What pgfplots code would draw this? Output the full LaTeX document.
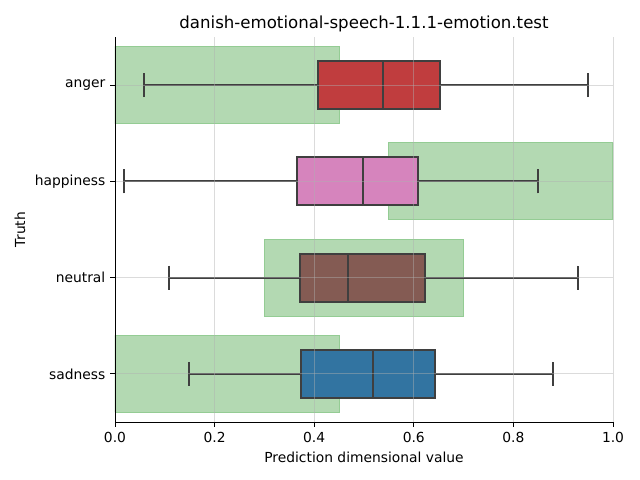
\documentclass[border=0pt]{standalone}
\usepackage{fontspec}
\setmainfont{DejaVu Sans}
\usepackage{pgfplots}
\pgfplotsset{compat=1.18}
\usepgfplotslibrary{statistics}

\definecolor{boxline}{RGB}{63,63,63}
\definecolor{bandfill}{RGB}{179,217,178}
\definecolor{banddraw}{RGB}{148,204,148}
\definecolor{cAnger}{RGB}{192,61,62}
\definecolor{cHappy}{RGB}{214,132,189}
\definecolor{cNeutral}{RGB}{132,91,83}
\definecolor{cSad}{RGB}{50,116,161}
\definecolor{gridc}{RGB}{176,176,176}

\begin{document}
\begin{tikzpicture}
  \useasboundingbox (-1.15in,-0.58in) rectangle (5.25in,4.22in);
  \begin{axis}[
      at={(0,0)}, anchor=south west,
      scale only axis,
      width=4.98in, height=3.85in,
      xmin=0, xmax=1, ymin=-0.5, ymax=3.5,
      xtick={0,0.2,...,1.0},
      /pgf/number format/.cd, fixed, fixed zerofill, precision=1, assume math mode=true,
      /pgfplots/.cd,
      ytick={0,1,2,3},
      yticklabels={sadness,neutral,happiness,anger},
      axis x line*=bottom,
      axis y line*=left,
      tick align=outside,
      major tick length=3.5pt,
      tick style={black, line width=0.6pt},
      axis line style={line width=0.6pt, -},
      grid=major,
      major grid style={color=gridc, opacity=0.45, line width=0.6pt},
      axis on top,
      title={danish-emotional-speech-1.1.1-emotion.test},
      title style={font=\fontsize{12}{14}\selectfont,
        at={(axis description cs:0.5,1)}, anchor=base},
      xlabel={Prediction dimensional value},
      ylabel={Truth},
      tick label style={font=\fontsize{10}{12}\selectfont},
      label style={font=\fontsize{10}{12}\selectfont},
      boxplot/box extend=0.5,
      boxplot/whisker extend=0.25,
    ]
    % target ranges
    \addplot[fill=bandfill, draw=banddraw, line width=0.8pt] coordinates {(0,2.6) (0.45,2.6) (0.45,3.4) (0,3.4) (0,2.6)};
    \addplot[fill=bandfill, draw=banddraw, line width=0.8pt] coordinates {(0.55,1.6) (1.0,1.6) (1.0,2.4) (0.55,2.4) (0.55,1.6)};
    \addplot[fill=bandfill, draw=banddraw, line width=0.8pt] coordinates {(0.30,0.6) (0.70,0.6) (0.70,1.4) (0.30,1.4) (0.30,0.6)};
    \addplot[fill=bandfill, draw=banddraw, line width=0.8pt] coordinates {(0,-0.4) (0.45,-0.4) (0.45,0.4) (0,0.4) (0,-0.4)};

    % boxplots
    \addplot[boxplot prepared={lower whisker=0.059, lower quartile=0.407, median=0.539,
        upper quartile=0.653, upper whisker=0.949, draw position=3},
        draw=boxline, fill=cAnger, line width=1.4pt] coordinates {};
    \addplot[boxplot prepared={lower whisker=0.019, lower quartile=0.365, median=0.498,
        upper quartile=0.609, upper whisker=0.849, draw position=2},
        draw=boxline, fill=cHappy, line width=1.4pt] coordinates {};
    \addplot[boxplot prepared={lower whisker=0.109, lower quartile=0.372, median=0.468,
        upper quartile=0.623, upper whisker=0.929, draw position=1},
        draw=boxline, fill=cNeutral, line width=1.4pt] coordinates {};
    \addplot[boxplot prepared={lower whisker=0.149, lower quartile=0.373, median=0.518,
        upper quartile=0.643, upper whisker=0.879, draw position=0},
        draw=boxline, fill=cSad, line width=1.4pt] coordinates {};
  \end{axis}
\end{tikzpicture}
\end{document}
